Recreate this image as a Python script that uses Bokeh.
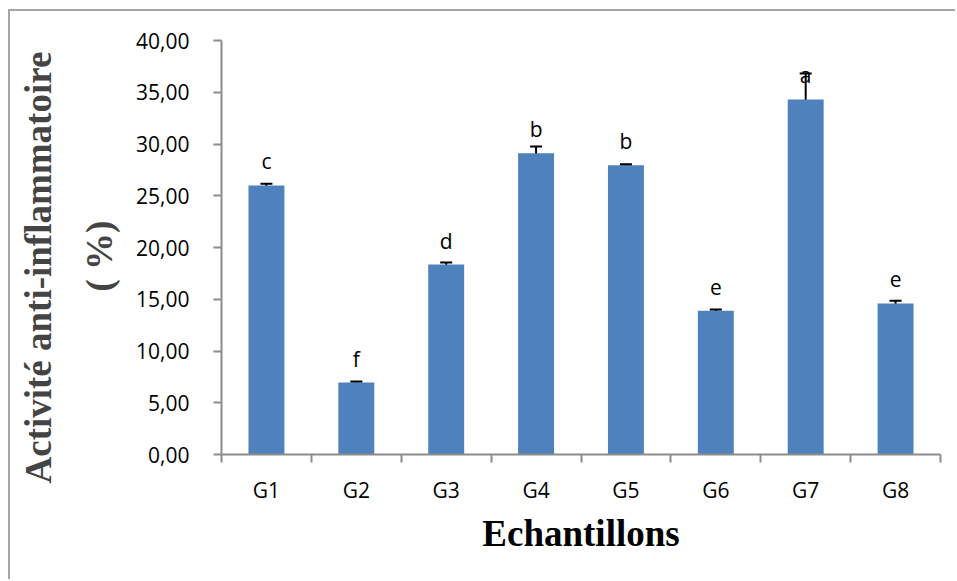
from bokeh.plotting import figure
from bokeh.models import (FactorRange, Range1d, LinearAxis, CategoricalAxis, FixedTicker,
                          Whisker, TeeHead, ColumnDataSource, Title)
from bokeh.core.properties import value
from bokeh.embed import file_html
from bokeh.resources import INLINE

categories = ["G1", "G2", "G3", "G4", "G5", "G6", "G7", "G8"]
activity = [26.0, 6.95, 18.35, 29.1, 27.95, 13.9, 34.3, 14.6]
errors = [0.15, 0.1, 0.2, 0.65, 0.1, 0.1, 2.5, 0.25]
letters = ["c", "f", "d", "b", "b", "e", "a", "e"]
y_ticks = [0, 5, 10, 15, 20, 25, 30, 35, 40]
y_tick_labels = ["0,00", "5,00", "10,00", "15,00", "20,00", "25,00", "30,00", "35,00", "40,00"]

BAR = "#4F81BD"
AXIS = "#8c8c8c"
SANS = "Open Sans"
SERIF = "Liberation Serif"

src = ColumnDataSource(data=dict(
    cat=categories, val=activity,
    upper=[v + e for v, e in zip(activity, errors)],
    lower=[v - e for v, e in zip(activity, errors)],
    letter=letters,
))

p = figure(width=947, height=570, output_backend="svg", toolbar_location=None,
           x_range=FactorRange(factors=categories), y_range=Range1d(0, 40),
           x_axis_type=None, y_axis_type=None,
           min_border_left=211, min_border_right=17, min_border_top=29, min_border_bottom=127,
           styles={"margin-left": "8px", "margin-top": "9px",
                   "border-top": "2px solid #a6a6a6", "border-left": "2px solid #a6a6a6"})
p.outline_line_color = None
p.xgrid.visible = False
p.ygrid.visible = False
p.background_fill_color = "white"
p.border_fill_color = "white"

# y axis
yax = LinearAxis(ticker=FixedTicker(ticks=y_ticks),
                 major_label_overrides={t: l for t, l in zip(y_ticks, y_tick_labels)})
yax.axis_line_color = AXIS
yax.axis_line_width = 2
yax.major_tick_line_color = AXIS
yax.major_tick_line_width = 2
yax.major_tick_out = 8
yax.major_tick_in = 0
yax.minor_tick_line_color = None
yax.major_label_text_font = SANS
yax.major_label_text_font_size = "21px"
yax.major_label_text_color = "black"
yax.major_label_standoff = 24
p.add_layout(yax, "left")

p.add_layout(Title(text="( %)", text_font=SERIF, text_font_size="37px", text_font_style="bold",
                   align="left", offset=163, standoff=28), "left")
p.add_layout(Title(text="Activité anti-inflammatoire", text_font=SERIF, text_font_size="37px",
                   text_font_style="bold", align="left", offset=-29, standoff=7), "left")

# x axis: boundary ticks between categories (synthetic coordinates) + category labels
boundaries = list(range(len(categories) + 1))
xnum = LinearAxis(ticker=FixedTicker(ticks=boundaries),
                  major_label_overrides={i: "" for i in boundaries})
xnum.axis_line_color = AXIS
xnum.axis_line_width = 2
xnum.major_tick_line_color = AXIS
xnum.major_tick_line_width = 2
xnum.major_tick_out = 8
xnum.major_tick_in = 0
xnum.minor_tick_line_color = None
xnum.major_label_text_font_size = "1px"
xnum.major_label_standoff = 0
p.add_layout(xnum, "below")

xcat = CategoricalAxis()
xcat.axis_line_color = None
xcat.major_tick_line_color = None
xcat.major_tick_out = 0
xcat.major_tick_in = 0
xcat.major_label_text_font = SANS
xcat.major_label_text_font_size = "21px"
xcat.major_label_text_color = "black"
xcat.major_label_standoff = 13
xcat.axis_label = "Echantillons"
xcat.axis_label_text_font = SERIF
xcat.axis_label_text_font_size = "37px"
xcat.axis_label_text_font_style = "bold"
xcat.axis_label_text_color = "black"
xcat.axis_label_standoff = 6
p.add_layout(xcat, "below")

p.vbar(x="cat", top="val", width=0.4, source=src, fill_color=BAR, line_color=None)

p.add_layout(Whisker(source=src, base="cat", upper="upper", lower="lower",
                     line_color="black", line_width=2,
                     upper_head=TeeHead(size=12, line_color="black", line_width=2),
                     lower_head=TeeHead(size=12, line_color="black", line_width=2)))

p.text(x="cat", y="val", text="letter", source=src, text_align="center",
       text_baseline="alphabetic", y_offset=-24, text_font=value(SANS),
       text_font_size="21px", text_color="black")

open("out.html", "w").write(file_html(p, INLINE))
